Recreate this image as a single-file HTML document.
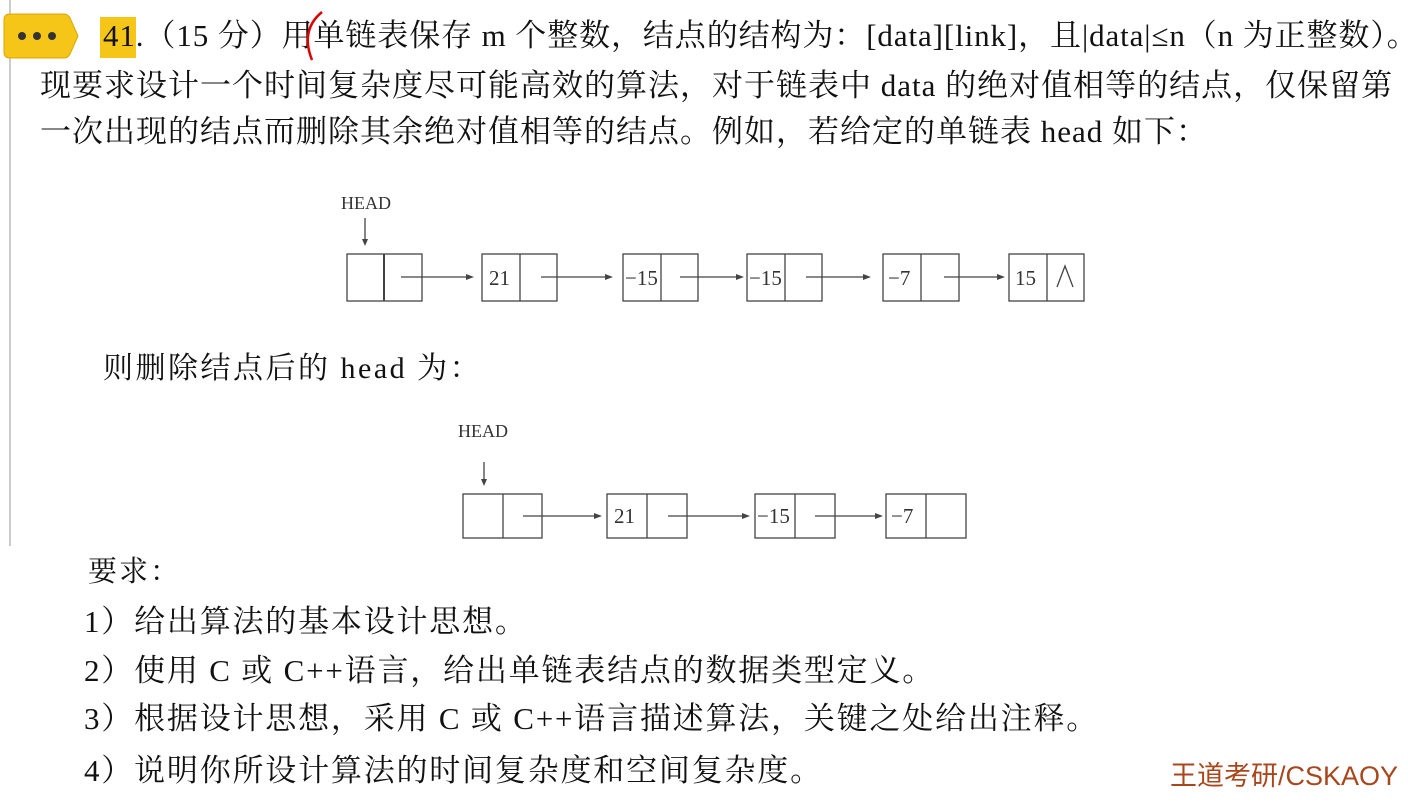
<!DOCTYPE html>
<html><head><meta charset="utf-8"><style>
body{margin:0;width:1408px;height:805px;background:#fff;position:relative;overflow:hidden;font-family:"Liberation Serif","Noto Serif CJK SC",serif;color:#111}
.t{position:absolute;white-space:nowrap;font-size:31px;line-height:1}
.s{font-family:"Liberation Sans","Noto Sans CJK SC",sans-serif}
</style></head><body>
<div style="position:absolute;left:9px;top:0;width:2px;height:546px;background:#ccc"></div>
<svg style="position:absolute;left:0;top:0" width="90" height="70"><path d="M10 14 H64 Q68 14 70 18 L78 36 L70 54 Q68 58 64 58 H10 Q4 58 4 52 V20 Q4 14 10 14Z" fill="#f5c518" stroke="#d9a800"/><circle cx="22" cy="36" r="4" fill="#333"/><circle cx="37" cy="36" r="4" fill="#333"/><circle cx="52" cy="36" r="4" fill="#333"/></svg>
<div style="position:absolute;left:100px;top:17px;width:36px;height:41px;background:#f5c518"></div>
<div class="t" style="left:103px;top:20px;letter-spacing:0.9px">41.（15 分）用单链表保存 m 个整数，结点的结构为：[data][link]，且|data|≤n（n 为正整数）。</div>
<div class="t" style="left:40px;top:70px;letter-spacing:1px">现要求设计一个时间复杂度尽可能高效的算法，对于链表中 data 的绝对值相等的结点，仅保留第</div>
<div class="t" style="left:40px;top:116px;letter-spacing:1px">一次出现的结点而删除其余绝对值相等的结点。例如，若给定的单链表 head 如下：</div>
<svg style="position:absolute;left:0;top:0" width="1408" height="805">
<path d="M322 12 Q300 30 312 60" stroke="#d00" stroke-width="2.5" fill="none"/>
<g stroke="#444" stroke-width="1.3" fill="none">
<rect x="347" y="254" width="75" height="47"/><line x1="384" y1="254" x2="384" y2="301" stroke-width="2"/>
<rect x="482" y="254" width="75" height="47"/><line x1="520" y1="254" x2="520" y2="301"/>
<rect x="623" y="254" width="75" height="47"/><line x1="661" y1="254" x2="661" y2="301"/>
<rect x="747" y="254" width="75" height="47"/><line x1="785" y1="254" x2="785" y2="301"/>
<rect x="883" y="254" width="76" height="47"/><line x1="921" y1="254" x2="921" y2="301"/>
<rect x="1009" y="254" width="75" height="47"/><line x1="1047" y1="254" x2="1047" y2="301"/>
<line x1="401" y1="277" x2="468" y2="277"/><line x1="541" y1="277" x2="607" y2="277"/><line x1="680" y1="277" x2="740" y2="277"/><line x1="806" y1="277" x2="866" y2="277"/><line x1="944" y1="277" x2="1000" y2="277"/>
<line x1="365" y1="218" x2="365" y2="242"/>
<rect x="463" y="494" width="79" height="44"/><line x1="503" y1="494" x2="503" y2="538"/>
<rect x="607" y="494" width="80" height="44"/><line x1="647" y1="494" x2="647" y2="538"/>
<rect x="755" y="494" width="80" height="44"/><line x1="795" y1="494" x2="795" y2="538"/>
<rect x="886" y="494" width="80" height="44"/><line x1="926" y1="494" x2="926" y2="538"/>
<line x1="523" y1="516" x2="596" y2="516"/><line x1="668" y1="516" x2="743" y2="516"/><line x1="815" y1="516" x2="877" y2="516"/>
<line x1="484" y1="462" x2="484" y2="482"/>
<path d="M1057 287 L1065 266 L1073 287"/>
</g>
<g fill="#444">
<path d="M474 277 l-8 -3 v6z"/><path d="M613 277 l-8 -3 v6z"/><path d="M744 277 l-8 -3 v6z"/><path d="M871 277 l-8 -3 v6z"/><path d="M1005 277 l-8 -3 v6z"/>
<path d="M365 246 l-3 -7 h6z"/>
<path d="M602 516 l-8 -3 v6z"/><path d="M750 516 l-8 -3 v6z"/><path d="M883 516 l-8 -3 v6z"/>
<path d="M484 486 l-3 -7 h6z"/>
</g>
<g font-family="Liberation Serif,serif" fill="#333">
<text x="341" y="209" font-size="18">HEAD</text>
<text x="489" y="285" font-size="21">21</text>
<text x="625" y="285" font-size="21">−15</text>
<text x="749" y="285" font-size="21">−15</text>
<text x="888" y="285" font-size="21">−7</text>
<text x="1015" y="285" font-size="21">15</text>
<text x="458" y="437" font-size="18">HEAD</text>
<text x="614" y="523" font-size="21">21</text>
<text x="757" y="523" font-size="21">−15</text>
<text x="891" y="523" font-size="21">−7</text>
</g>
</svg>
<div class="t" style="left:103px;top:354px;font-size:30px;letter-spacing:2.5px">则删除结点后的 head 为：</div>
<div class="t" style="left:88px;top:558px;font-size:29px;letter-spacing:2px">要求：</div>
<div class="t" style="left:84px;top:606px;letter-spacing:1.8px">1）给出算法的基本设计思想。</div>
<div class="t" style="left:84px;top:655px;letter-spacing:1.8px">2）使用 C 或 C++语言，给出单链表结点的数据类型定义。</div>
<div class="t" style="left:84px;top:703px;letter-spacing:1.8px">3）根据设计思想，采用 C 或 C++语言描述算法，关键之处给出注释。</div>
<div class="t" style="left:84px;top:755px;letter-spacing:1.8px">4）说明你所设计算法的时间复杂度和空间复杂度。</div>
<div class="t s" style="left:1170px;top:763px;font-size:27px;color:#a8461c">王道考研/CSKAOY</div>
</body></html>
